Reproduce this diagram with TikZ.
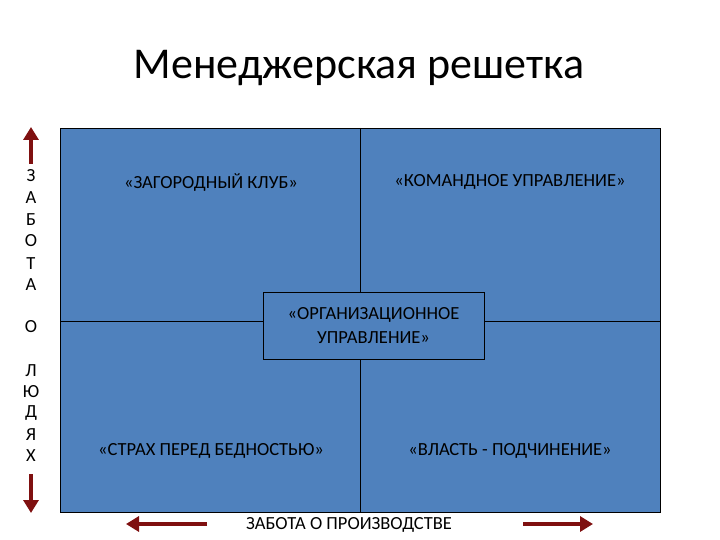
\documentclass[tikz,border=0pt]{standalone}
\usepackage{fontspec}
\setmainfont{Carlito}
\usetikzlibrary{arrows.meta}
\definecolor{cellblue}{HTML}{4F81BD}
\definecolor{arrred}{HTML}{7F1010}
\begin{document}
\begin{tikzpicture}[x=1pt,y=-1pt,
  lbl/.style={font=\fontsize{18.5}{24}\selectfont, align=center},
  vl/.style={font=\fontsize{18.5}{22}\selectfont},
  bigarrow/.style={draw=arrred, line width=4.5pt, -{Triangle[length=13pt,width=15pt]}}]
\useasboundingbox (0,0) rectangle (720,540);
\node[font=\fontsize{44}{48}\selectfont] (title) at (359,68) {Менеджерская решетка};
\filldraw[fill=cellblue, draw=black, line width=0.8pt] (60,128) rectangle (660,512);
\draw[line width=0.8pt] (360,128) -- (360,512);
\draw[line width=0.8pt] (60,321) -- (660,321);
\node[draw=black, fill=cellblue, line width=0.8pt, minimum width=221pt, minimum height=67pt, lbl] (center) at (373.5,325.5) {«ОРГАНИЗАЦИОННОЕ\\УПРАВЛЕНИЕ»};
\node[lbl] (club) at (211,182) {«ЗАГОРОДНЫЙ КЛУБ»};
\node[lbl] (team) at (510,182) {«КОМАНДНОЕ УПРАВЛЕНИЕ»};
\node[lbl] (fear) at (211,451) {«СТРАХ ПЕРЕД БЕДНОСТЬЮ»};
\node[lbl] (power) at (510,451) {«ВЛАСТЬ - ПОДЧИНЕНИЕ»};
\foreach \l/\y in {З/176,А/198,Б/220,О/241,Т/264,А/285,О/327,Л/371,Ю/392,Д/413,Я/435,Х/456}
  \node[vl] at (31,\y) {\l};
\coordinate (ut) at (31,127); \coordinate (ub) at (31,164);
\coordinate (dt) at (31,474); \coordinate (db) at (31,513);
\draw[bigarrow] (ub) -- (ut);
\draw[bigarrow] (dt) -- (db);
\node[vl] (prod) at (349,525) {ЗАБОТА О ПРОИЗВОДСТВЕ};
\coordinate (ll) at (126,524); \coordinate (lr) at (207,524);
\coordinate (rl) at (523,524); \coordinate (rr) at (593,524);
\draw[bigarrow] (lr) -- (ll);
\draw[bigarrow] (rl) -- (rr);
\end{tikzpicture}
\end{document}
